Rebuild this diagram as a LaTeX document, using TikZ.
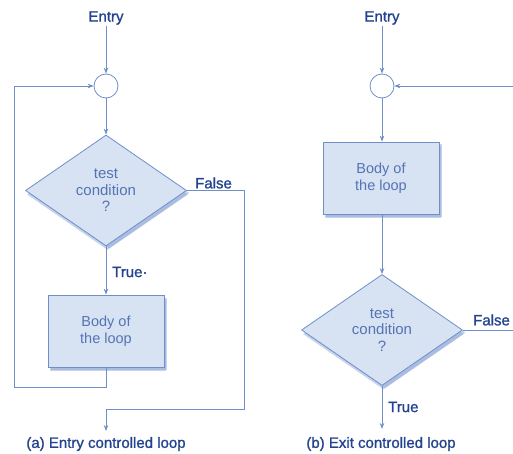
\documentclass[tikz,border=0pt]{standalone}
\usepackage{fontspec}
\setmainfont{Liberation Sans}
\newfontfamily\lblfont[FakeBold=1.2]{Liberation Sans}
\usetikzlibrary{shapes.geometric,arrows.meta,shadows}
\definecolor{linec}{HTML}{6F8FC9}
\definecolor{lblc}{HTML}{23438F}
\definecolor{inc}{HTML}{5474B4}
\definecolor{fillc}{HTML}{D7E2F3}
\definecolor{shadc}{HTML}{8EA7D6}
\tikzset{
  conn/.style={draw=linec, line width=0.8pt},
  arr/.style={conn, -{Stealth[length=6pt,width=4.5pt]}},
  lbl/.style={text=lblc, font=\lblfont\fontsize{15}{17}\selectfont, inner sep=1pt},
  circ/.style={circle, draw=linec, line width=0.8pt, fill=white, minimum size=24pt, inner sep=0pt},
  shade box/.style={
    drop shadow={shadow xshift=1.5pt, shadow yshift=-4pt, fill=shadc, opacity=0.5},
    drop shadow={shadow xshift=3pt, shadow yshift=-2.5pt, fill=shadc, opacity=0.5}},
  stepbox/.style={rectangle, draw=linec, line width=0.8pt, fill=fillc, shade box,
    minimum width=116pt, minimum height=72pt, inner sep=0pt, align=center,
    text=inc, font=\fontsize{14.5}{17}\selectfont},
  decide/.style={diamond, draw=linec, line width=0.8pt, fill=fillc, shade box,
    aspect=1.45, minimum width=161pt, minimum height=111pt, inner sep=0pt, align=center,
    text=inc, font=\fontsize{15}{16.5}\selectfont}
}
\begin{document}
\begin{tikzpicture}[x=1pt,y=-1pt]
\useasboundingbox (0,0) rectangle (513,454);
% ---- (a) Entry controlled loop ----
\node[lbl] (entA) at (106,18) {Entry};
\node[circ] (cA) at (106,86) {};
\node[decide] (dA) at (106,190.5) {test\\condition\\?};
\node[stepbox] (bA) at (106,331) {Body of\\the loop};
\node[lbl, anchor=west] (tA) at (111,272) {True·};
\node[lbl, anchor=west] (fLA) at (194,183) {False};
\node[lbl] (capA) at (106,444) {(a) Entry controlled loop};
\coordinate (lA) at (14,387);
\coordinate (fA) at (244,409);
\coordinate (outA) at (106,431);
\draw[arr] (entA) -- (cA);
\draw[arr] (cA) -- (dA);
\draw[arr] (dA) -- (bA);
\draw[arr] (bA.south) |- (lA) |- (cA.west);
\draw[arr] (dA.east) -| (fA) -| (outA);
% ---- (b) Exit controlled loop ----
\node[lbl] (entB) at (382,18) {Entry};
\node[circ] (cB) at (382,86) {};
\node[stepbox] (bB) at (381,178) {Body of\\the loop};
\node[decide] (dB) at (382,330) {test\\condition\\?};
\node[lbl, anchor=west] (fLB) at (472,320) {False};
\node[lbl, anchor=west] (tB) at (387,407) {True};
\node[lbl] (capB) at (381,444) {(b) Exit controlled loop};
\coordinate (inB) at (513,86);
\coordinate (fB) at (513,330);
\coordinate (outB) at (382,429);
\draw[arr] (entB) -- (cB);
\draw[arr] (inB) -- (cB);
\draw[arr] (cB) -- (cB |- bB.north);
\draw[arr] (cB |- bB.south) -- (dB);
\draw[conn] (dB.east) -- (fB);
\draw[arr] (dB) -- (outB);
\end{tikzpicture}
\end{document}
